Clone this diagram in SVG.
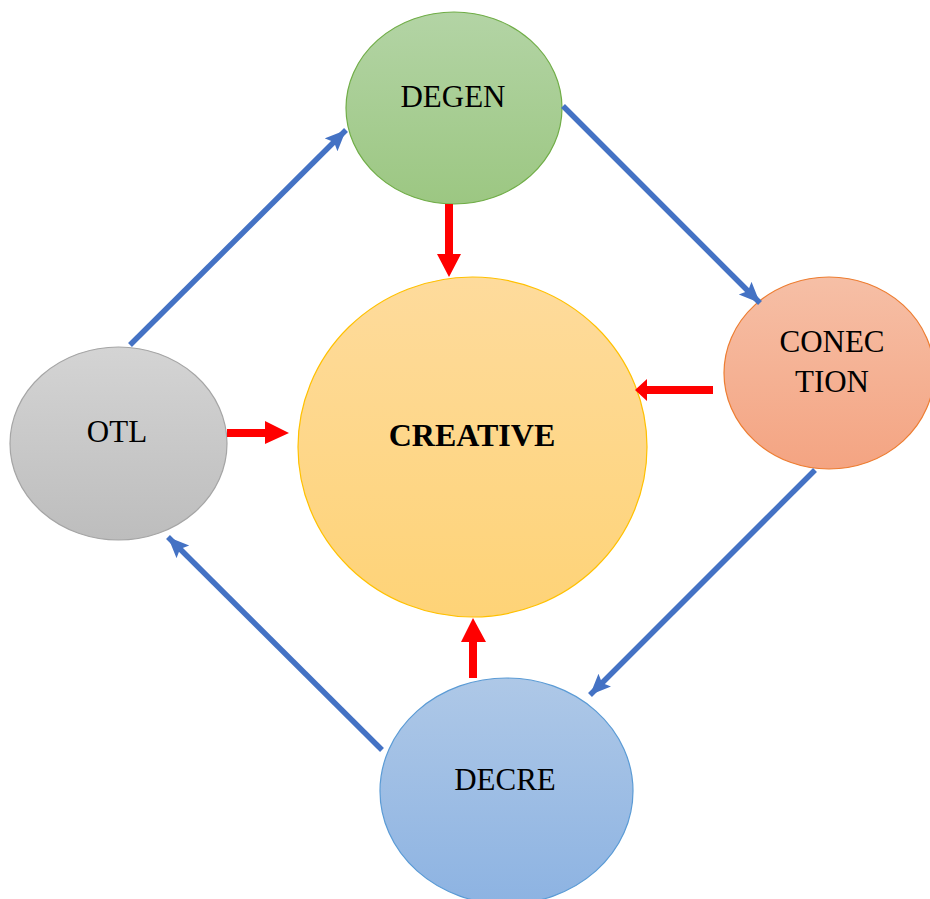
<svg xmlns="http://www.w3.org/2000/svg" width="930" height="899" viewBox="0 0 930 899">
<style>
.lbl{font-family:"Liberation Serif","Times New Roman",serif;font-size:31px;fill:#000;text-anchor:middle}
.bold{font-weight:bold;font-size:32px}
.blue{stroke:#4472C4;stroke-width:5.5;fill:none;marker-end:url(#bh)}
.red{fill:#FF0000}
</style>
<defs>
<linearGradient id="gG" x1="0" y1="0" x2="0" y2="1"><stop offset="0" stop-color="#b3d4a5"/><stop offset="1" stop-color="#9cc782"/></linearGradient>
<linearGradient id="gY" x1="0" y1="0" x2="0" y2="1"><stop offset="0" stop-color="#fedb9c"/><stop offset="1" stop-color="#fed377"/></linearGradient>
<linearGradient id="gO" x1="0" y1="0" x2="0" y2="1"><stop offset="0" stop-color="#f6bfa6"/><stop offset="1" stop-color="#f4a482"/></linearGradient>
<linearGradient id="gS" x1="0" y1="0" x2="0" y2="1"><stop offset="0" stop-color="#d4d4d4"/><stop offset="1" stop-color="#bdbdbd"/></linearGradient>
<linearGradient id="gB" x1="0" y1="0" x2="0" y2="1"><stop offset="0" stop-color="#aec8e7"/><stop offset="1" stop-color="#8db3e2"/></linearGradient>
<marker id="bh" markerUnits="userSpaceOnUse" markerWidth="26" markerHeight="22" refX="21" refY="9" orient="auto">
<path d="M0,0 L21,9 L0,18 L4,9 Z" fill="#4472C4"/>
</marker>
</defs>
<g id="node-creative">
<ellipse cx="472.5" cy="447" rx="174.5" ry="170" fill="url(#gY)" stroke="#FFC000" stroke-width="1.2"/>
<text class="lbl bold" x="472" y="446">CREATIVE</text>
</g>
<g id="node-degen">
<ellipse cx="454" cy="108" rx="108" ry="96" fill="url(#gG)" stroke="#70AD47" stroke-width="1.2"/>
<text class="lbl" x="453" y="107">DEGEN</text>
</g>
<g id="node-conection">
<ellipse cx="829" cy="373" rx="105" ry="96" fill="url(#gO)" stroke="#ED7D31" stroke-width="1.2"/>
<text class="lbl" x="832" y="352">CONEC</text>
<text class="lbl" x="832" y="392">TION</text>
</g>
<g id="node-otl">
<ellipse cx="118.5" cy="443.5" rx="108.5" ry="96.5" fill="url(#gS)" stroke="#A5A5A5" stroke-width="1.2"/>
<text class="lbl" x="117" y="442">OTL</text>
</g>
<g id="node-decre">
<ellipse cx="506.5" cy="791" rx="126.5" ry="113" fill="url(#gB)" stroke="#5B9BD5" stroke-width="1.2"/>
<text class="lbl" x="505" y="790">DECRE</text>
</g>
<g id="connectors">
<line class="blue" x1="130" y1="345" x2="346" y2="130"/>
<line class="blue" x1="563" y1="106" x2="760" y2="303"/>
<line class="blue" x1="815" y1="470" x2="590" y2="695"/>
<line class="blue" x1="382" y1="750" x2="168" y2="537"/>
<polygon class="red" points="445,204 453,204 453,254 461,254 449,277 437,254 445,254"/>
<polygon class="red" points="713,386 713,394 647,394 647,401 635,390 647,379 647,386"/>
<polygon class="red" points="227,429 227,437 265,437 265,444 289,433 265,421 265,429"/>
<polygon class="red" points="469,678 477,678 477,642 486,642 473,618 461,642 469,642"/>
</g>
</svg>
